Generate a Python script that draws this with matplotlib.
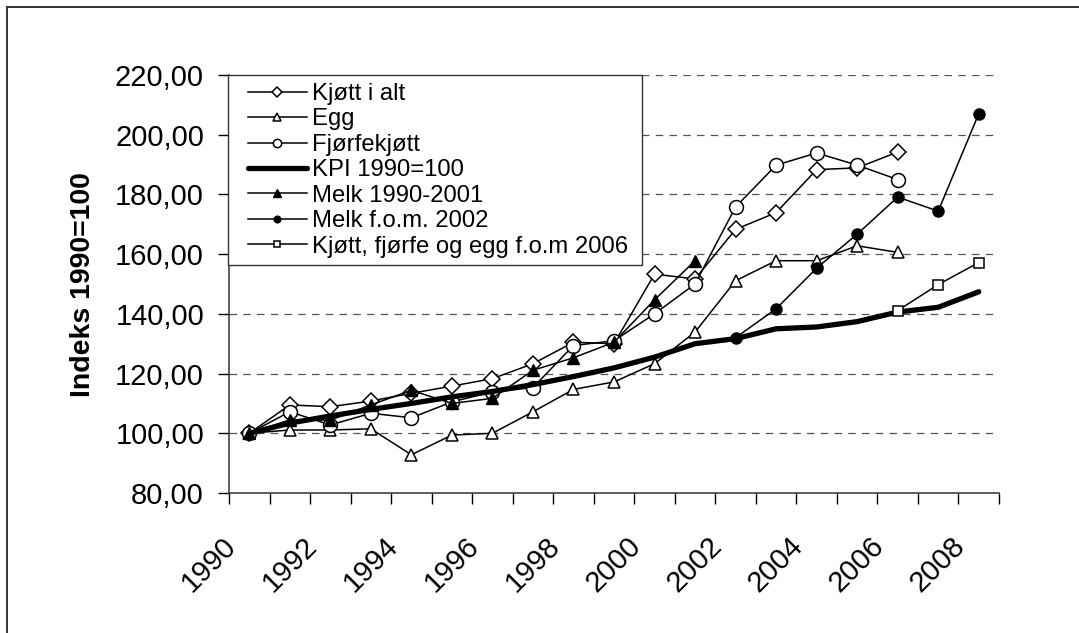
"""
Prisindekser for kjøtt, egg, fjørfe og melk mot KPI, 1990=100.
"""

import matplotlib
matplotlib.use("Agg")
import matplotlib.pyplot as plt
import matplotlib.transforms as mtransforms
import numpy as np
from matplotlib.lines import Line2D
from matplotlib.patches import Rectangle
from matplotlib.ticker import FuncFormatter

nan = np.nan

YEARS = list(range(1990, 2009))

KJOTT = [100.0, 109.5, 108.9, 110.8, 113.4, 115.8, 118.3, 123.3, 130.5, 130.0,
         153.3, 151.7, 168.3, 173.9, 188.3, 188.9, 194.2, nan, nan]
EGG = [100.0, 101.1, 101.1, 101.5, 92.8, 99.4, 100.0, 107.2, 114.7, 117.2,
       123.3, 133.9, 151.1, 157.8, 157.8, 162.8, 160.6, nan, nan]
FJORFE = [100.0, 107.2, 102.8, 106.7, 105.2, 110.5, 113.9, 115.3, 129.4, 131.0,
          140.0, 150.0, 175.8, 189.8, 193.9, 189.8, 185.0, nan, nan]
KPI = [100.0, 103.4, 105.8, 108.0, 110.0, 112.2, 114.0, 116.3, 119.0, 121.9,
       125.5, 130.0, 131.7, 135.0, 135.6, 137.4, 140.6, 142.2, 147.4]
MELK_1 = [100.0, 104.5, 104.4, 109.5, 114.4, 110.0, 111.7, 121.1, 125.3, 130.5,
          144.7, 157.8, nan, nan, nan, nan, nan, nan, nan]
MELK_2 = [nan, nan, nan, nan, nan, nan, nan, nan, nan, nan,
          nan, nan, 132.0, 141.7, 155.3, 166.7, 179.1, 174.4, 207.0]
KFE = [nan, nan, nan, nan, nan, nan, nan, nan, nan, nan,
       nan, nan, nan, nan, nan, nan, 141.1, 149.8, 157.2]

LABELS = ["Kjøtt i alt", "Egg", "Fjørfekjøtt", "KPI 1990=100",
          "Melk 1990-2001", "Melk f.o.m. 2002", "Kjøtt, fjørfe og egg f.o.m 2006"]

plt.rcParams["font.family"] = ["Liberation Sans", "DejaVu Sans"]


def main() -> None:
    fig = plt.figure(figsize=(10.79, 6.33), dpi=100)
    W, H = 1079, 633

    # outer frame (left and top edges visible in the picture)
    fig.add_artist(Line2D([7 / W, 7 / W], [0, 1 - 7 / H], color="#333333",
                          lw=1.4, transform=fig.transFigure))
    fig.add_artist(Line2D([7 / W, 1], [1 - 7 / H, 1 - 7 / H], color="#333333",
                          lw=1.4, transform=fig.transFigure))

    ax = fig.add_axes([229 / W, 140 / H, 770 / W, 418 / H])
    x = np.arange(len(YEARS))

    thin = dict(color="black", lw=1.1)
    ax.plot(x, KJOTT, marker="D", ms=8, mfc="white", mec="black", mew=1.1, **thin)
    ax.plot(x, EGG, marker="^", ms=9, mfc="white", mec="black", mew=1.1, **thin)
    ax.plot(x, FJORFE, marker="o", ms=10, mfc="white", mec="black", mew=1.1, **thin)
    ax.plot(x, KPI, color="black", lw=3.8, solid_capstyle="round")
    ax.plot(x, MELK_1, marker="^", ms=9, mfc="black", mec="black", **thin)
    ax.plot(x, MELK_2, marker="o", ms=8, mfc="black", mec="black", **thin)
    ax.plot(x, KFE, marker="s", ms=7, mfc="white", mec="black", mew=1.1, **thin)

    ax.set_xlim(-0.5, len(YEARS) - 0.5)
    ax.set_ylim(80, 220)
    ax.set_yticks(range(80, 221, 20))
    ax.yaxis.set_major_formatter(FuncFormatter(lambda v, _: f"{v:.2f}".replace(".", ",")))
    ax.tick_params(axis="y", direction="out", length=8, width=1, labelsize=21, pad=10)

    for v in range(100, 221, 20):
        ax.axhline(v, color="#555555", lw=0.9, ls=(0, (6, 5)), zorder=0)

    ax.set_xticks(x[::2])
    ax.set_xticklabels([str(y) for y in YEARS[::2]])
    ax.set_xticks(np.arange(-0.5, len(YEARS), 1.0), minor=True)
    ax.tick_params(axis="x", which="major", length=0, labelsize=21, pad=28)
    ax.tick_params(axis="x", which="minor", direction="out", length=8, width=1)
    shift = mtransforms.ScaledTranslation(-8 / 100, 0, fig.dpi_scale_trans)
    for lab in ax.get_xticklabels():
        lab.set_rotation(45)
        lab.set_ha("right")
        lab.set_va("top")
        lab.set_transform(lab.get_transform() + shift)

    for s in ("top", "right"):
        ax.spines[s].set_visible(False)
    for s in ("left", "bottom"):
        ax.spines[s].set_color("#333333")
        ax.spines[s].set_linewidth(1.1)

    fig.text(83 / W, 1 - 285 / H, "Indeks 1990=100", rotation=90, fontsize=20.5,
             fontweight="bold", ha="center", va="center")

    # legend frame drawn separately so the inner padding can differ per side
    ax.add_patch(Rectangle((228 / W, 1 - 265 / H), 414 / W, 190 / H,
                           transform=fig.transFigure, facecolor="white",
                           edgecolor="#333333", lw=1.0, zorder=4, clip_on=False))
    ax.legend(ax.get_lines()[:7], LABELS, loc="upper left",
              bbox_to_anchor=(248 / W, 1 - 83 / H),
              bbox_transform=fig.transFigure, borderaxespad=0, borderpad=0,
              fontsize=17.2, labelspacing=0.145, handlelength=2.45,
              handletextpad=0.25, markerscale=0.6, frameon=False)

    fig.savefig("out.png", dpi=100)
    plt.close(fig)


if __name__ == "__main__":
    main()
